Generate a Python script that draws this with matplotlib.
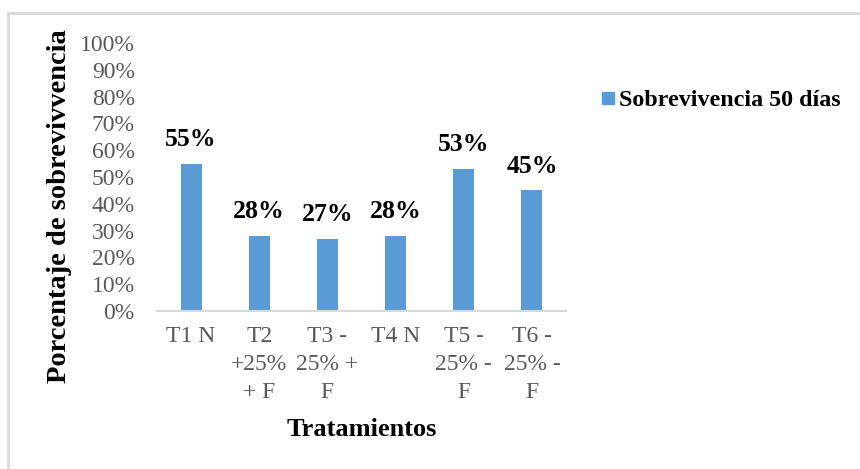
import matplotlib
matplotlib.use("Agg")
import matplotlib.pyplot as plt
from matplotlib.lines import Line2D
from matplotlib.ticker import PercentFormatter

# Survival data per treatment
tratamientos = ["T1 N", "T2\n+25%\n+ F", "T3 -\n25% +\nF", "T4 N", "T5 -\n25% -\nF", "T6 -\n25% -\nF"]
sobrevivencia = [55, 28, 27, 28, 53, 45]
serie = "Sobrevivencia 50 días"

plt.rcParams["font.family"] = ["Liberation Serif", "DejaVu Serif"]
bar_color = "#5B9BD5"
gray_text = "#595959"

fig = plt.figure(figsize=(8.6, 4.69), dpi=100)
ax = fig.add_axes([157 / 860, 1 - 311 / 469, 409 / 860, 268 / 469])

x = range(len(tratamientos))
bars = ax.bar(x, sobrevivencia, width=0.31, color=bar_color, label=serie)

for rect, v in zip(bars, sobrevivencia):
    ax.annotate(f"{v}%", (rect.get_x() + rect.get_width() / 2, v),
                xytext=(0, 9), textcoords="offset points",
                ha="center", va="bottom", fontsize=18.5, fontweight="bold")

ax.set_xlim(-0.5, len(tratamientos) - 0.5)
ax.set_ylim(0, 100)
ax.set_yticks(range(0, 101, 10))
ax.yaxis.set_major_formatter(PercentFormatter(decimals=0))
ax.set_xticks(list(x))
ax.set_xticklabels(tratamientos)
for lbl in ax.get_xticklabels():
    lbl.set_linespacing(1.42)
ax.tick_params(axis="both", length=0, labelsize=17, labelcolor=gray_text)
ax.tick_params(axis="x", pad=11)
ax.tick_params(axis="y", pad=16)

for side in ["top", "right", "left"]:
    ax.spines[side].set_visible(False)
ax.spines["bottom"].set_color("#d9d9d9")
ax.spines["bottom"].set_linewidth(1.5)

ax.set_xlabel("Tratamientos", fontsize=19, fontweight="bold")
ax.xaxis.set_label_coords((362 - 157) / 409, -(430 - 311) / 268)
ax.xaxis.label.set_va("center")

ax.set_ylabel("Porcentaje de sobrevivvencia", fontsize=20.5, fontweight="bold")
ax.yaxis.set_label_coords(-(157 - 60) / 409, (311 - 206) / 268)
ax.yaxis.label.set_va("center")

handle = Line2D([], [], marker="s", linestyle="none", markersize=9,
                markerfacecolor=bar_color, markeredgecolor=bar_color)
fig.legend([handle], [serie], loc="center left", bbox_to_anchor=(577 / 860, 1 - 100 / 469),
           frameon=False, handletextpad=0.05, handlelength=0.8,
           prop={"weight": "bold", "size": 17.3})

# light frame lines on the left and top edge
fig.add_artist(Line2D([8 / 860, 8 / 860], [0, 1 - 13 / 469], transform=fig.transFigure,
                      color="#d9d9d9", linewidth=2))
fig.add_artist(Line2D([8 / 860, 1], [1 - 13 / 469, 1 - 13 / 469], transform=fig.transFigure,
                      color="#d9d9d9", linewidth=2))

fig.savefig("out.png", dpi=100)
